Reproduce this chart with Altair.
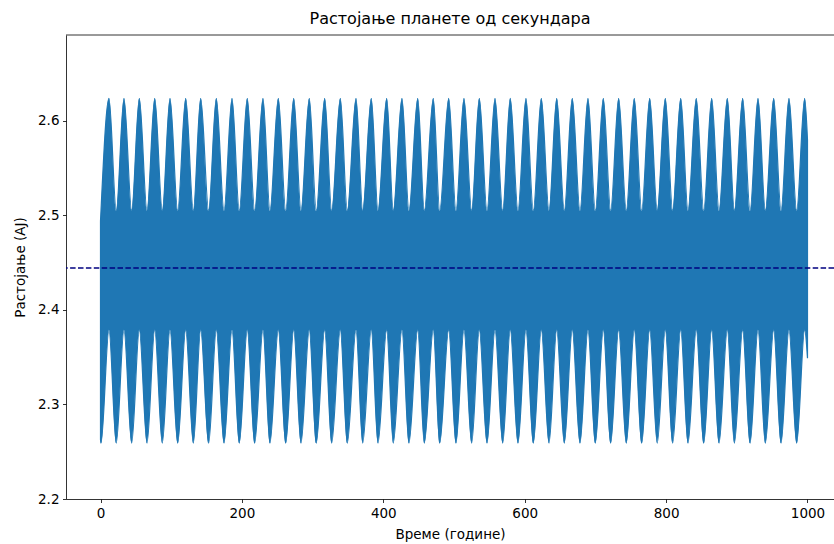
import altair as alt
import pandas as pd

# Years at which the outer envelope reaches its highest point (apoapsis lobes)
upper_peak_years = [12.0, 33.2, 54.9, 76.7, 98.3, 120.5, 141.7, 163.8, 186.0, 207.6,
                    229.8, 251.5, 273.3, 295.3, 317.1, 339.2, 361.4, 383.0, 404.8, 426.4,
                    448.7, 470.7, 492.5, 514.1, 535.8, 558.0, 579.6, 601.8, 623.5, 645.3,
                    667.3, 689.5, 711.2, 732.9, 755.0, 776.8, 798.9, 820.7, 842.7, 864.5,
                    886.6, 908.3, 930.0, 952.2, 973.8, 996.0]
# Years at which the inner envelope reaches its lowest point (periapsis lobes)
lower_trough_years = [0.7, 22.3, 44.1, 65.8, 87.4, 109.2, 131.3, 153.0, 174.7, 196.3,
                      218.1, 239.7, 262.0, 283.6, 305.2, 327.0, 349.1, 370.9, 392.5, 414.1,
                      436.3, 458.0, 479.8, 502.8, 525.0, 546.7, 568.9, 590.5, 612.2, 634.4,
                      656.0, 678.2, 699.9, 721.6, 743.7, 765.5, 787.5, 809.3, 831.0, 853.2,
                      874.9, 896.6, 918.8, 940.4, 962.6, 984.7]

# Envelope levels of the distance (AU)
upper_max = 2.624   # top of an outer lobe
upper_min = 2.505   # outer envelope between lobes
lower_max = 2.379   # inner envelope between lobes
lower_min = 2.259   # bottom of an inner lobe

# Start / end of the run
start_year, start_low, start_high = 0.0, 2.263, 2.494
end_year, end_low, end_high = 1000.0, 2.349, 2.58

mean_distance = 2.4444

x_ticks = [0, 200, 400, 600, 800, 1000]
y_ticks = [2.2, 2.3, 2.4, 2.5, 2.6]

rows = [(start_year, start_low, start_high), (end_year, end_low, end_high)]
rows += [(t, lower_max, upper_max) for t in upper_peak_years]
rows += [(t, lower_min, upper_min) for t in lower_trough_years]
band = pd.DataFrame(rows, columns=["t", "low", "high"]).sort_values("t")

x_scale = alt.Scale(domain=[-48.8, 1037.5], nice=False, zero=False)
y_scale = alt.Scale(domain=[2.2, 2.691], nice=False, zero=False)

axis_style = dict(
    domainColor="black", domainWidth=0.8,
    tickColor="black", tickWidth=0.8, tickSize=3.5,
    labelColor="black", labelFont="DejaVu Sans", labelFontSize=13.5, labelPadding=3.5,
    titleColor="black", titleFont="DejaVu Sans", titleFontSize=13.5,
    titleFontWeight="normal", grid=False,
)

distance = alt.Chart(band).mark_area(
    color="#1f77b4", stroke="#1f77b4", strokeWidth=1.2, interpolate="monotone"
).encode(
    x=alt.X("t:Q", scale=x_scale,
            axis=alt.Axis(title="Време (године)", values=x_ticks, format="d",
                          titlePadding=8, **axis_style)),
    y=alt.Y("low:Q", scale=y_scale,
            axis=alt.Axis(title="Растојање (АЈ)", values=y_ticks, format=".1f",
                          titlePadding=10, **axis_style)),
    y2="high:Q",
)

mean_line = alt.Chart(pd.DataFrame({"mean": [mean_distance]})).mark_rule(
    color="#000080", strokeDash=[5.5, 2.4], strokeWidth=1.5
).encode(y=alt.Y("mean:Q", scale=y_scale))

top_spine = alt.Chart(pd.DataFrame({"k": [0]})).mark_rule(
    color="black", strokeWidth=0.8
).encode(y=alt.value(0))

chart = alt.layer(distance, mean_line, top_spine).properties(
    width=768,
    height=464,
    padding={"left": 66, "top": 35, "right": 0, "bottom": 45},
    autosize=alt.AutoSizeParams(type="none"),
    title=alt.Title("Растојање планете од секундара", font="DejaVu Sans",
                    fontSize=16, fontWeight="normal", color="black", offset=8),
).configure_view(stroke=None)

chart.save("out.html", embed_options={"renderer": "svg", "actions": False})
